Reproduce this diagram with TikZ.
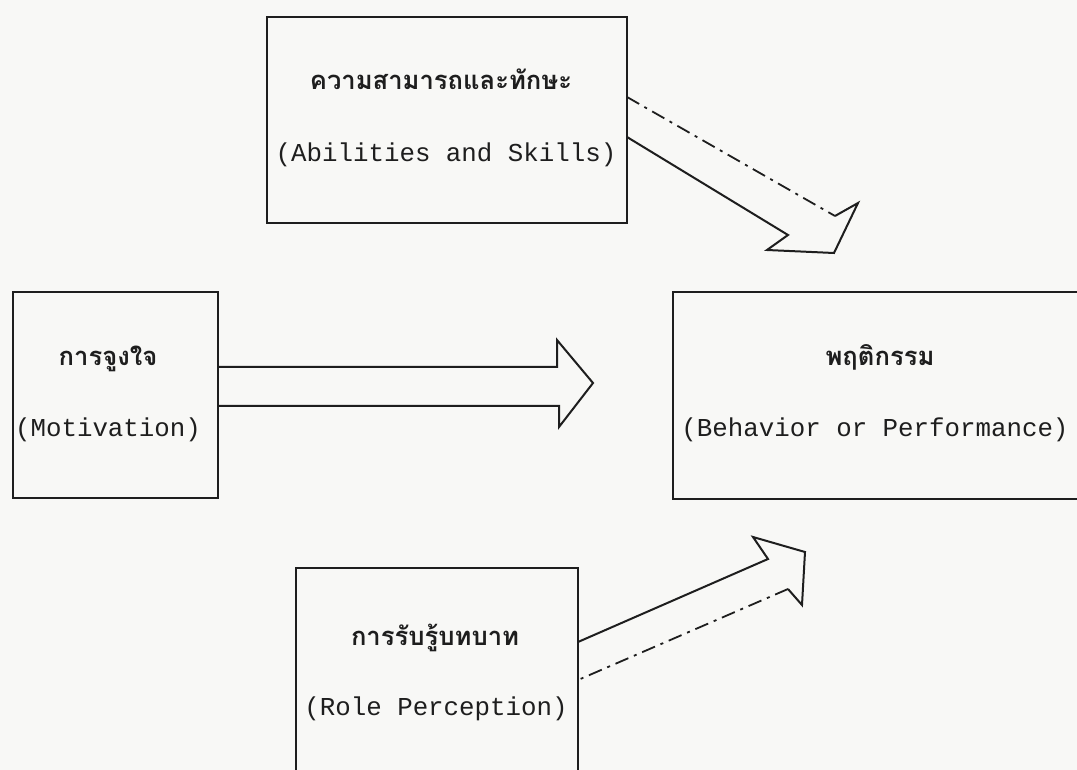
\documentclass[tikz,border=0pt]{standalone}
\usepackage{fontspec}
\newfontfamily\thaifont[Script=Thai]{Loma}
\newfontfamily\engfont{Liberation Mono}
\definecolor{ink}{HTML}{1E1E1E}
\definecolor{paper}{HTML}{F8F8F6}
\begin{document}
\begin{tikzpicture}[x=0.5pt,y=-0.5pt,
  box/.style={draw=ink,line width=1pt,rectangle,inner sep=0pt},
  thtext/.style={anchor=base,font=\thaifont\bfseries\fontsize{12.8}{15}\selectfont,text=ink,inner sep=0pt},
  entext/.style={anchor=base,font=\engfont\fontsize{12.9}{14}\selectfont,text=ink,inner sep=0pt},
  solidline/.style={draw=ink,line width=1pt,line join=miter},
  dotline/.style={draw=ink,line width=0.9pt,dash pattern=on 7pt off 3pt on 1.5pt off 3pt}]
\useasboundingbox (0,0) rectangle (1077,770);
\clip (0,0) rectangle (1077,770);
\fill[paper] (0,0) rectangle (1077,770);

% boxes
\node[box,minimum width=180pt,minimum height=103pt] (abil) at (447,120) {};
\node[box,minimum width=102.5pt,minimum height=103pt] (moti) at (115.5,395) {};
\node[box,minimum width=210pt,minimum height=103.5pt] (beha) at (883,395.5) {};
\node[box,minimum width=141pt,minimum height=120pt] (role) at (437,688) {};

% texts
\node[thtext] (abilTh) at (441,90) {ความสามารถและทักษะ};
\node[entext] (abilEn) at (446,162) {(Abilities and Skills)};
\node[thtext] (motiTh) at (108,365) {การจูงใจ};
\node[entext] (motiEn) at (108,437) {(Motivation)};
\node[thtext] (behaTh) at (880,365) {พฤติกรรม};
\node[entext] (behaEn) at (875,437) {(Behavior or Performance)};
\node[thtext] (roleTh) at (435,645) {การรับรู้บทบาท};
\node[entext] (roleEn) at (436,715) {(Role Perception)};

% arrow from abilities
\coordinate (a1s1) at (627,97);
\coordinate (a1e1) at (835,216);
\coordinate (a1b1) at (858,203);
\coordinate (a1tip) at (834,253);
\coordinate (a1b2) at (767,250);
\coordinate (a1e2) at (788,235);
\coordinate (a1s2) at (627,137);
\draw[dotline] (a1s1) -- (a1e1);
\draw[solidline] (a1e1) -- (a1b1) -- (a1tip) -- (a1b2) -- (a1e2) -- (a1s2);

% arrow from motivation
\coordinate (a2s1) at (218,367);
\coordinate (a2e1) at (557,367);
\coordinate (a2b1) at (557,340);
\coordinate (a2tip) at (593,383);
\coordinate (a2b2) at (559,427);
\coordinate (a2e2) at (559,406);
\coordinate (a2s2) at (218,406);
\draw[solidline] (a2s1) -- (a2e1) -- (a2b1) -- (a2tip) -- (a2b2) -- (a2e2) -- (a2s2);

% arrow from role perception
\coordinate (a3s1) at (578,642);
\coordinate (a3e1) at (768,559);
\coordinate (a3b1) at (753,537);
\coordinate (a3tip) at (805,552);
\coordinate (a3b2) at (802,605);
\coordinate (a3e2) at (788,589);
\coordinate (a3s2) at (578,680);
\draw[solidline] (a3s1) -- (a3e1) -- (a3b1) -- (a3tip) -- (a3b2) -- (a3e2);
\draw[dotline] (a3e2) -- (a3s2);
\end{tikzpicture}
\end{document}
